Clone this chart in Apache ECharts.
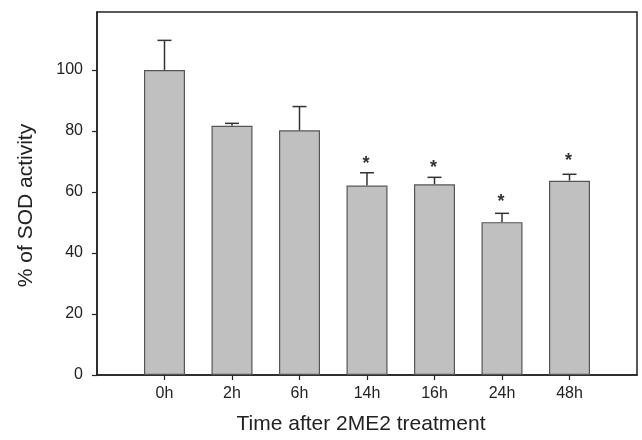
<!DOCTYPE html>
<html><head><meta charset="utf-8">
<script src="https://cdn.jsdelivr.net/npm/echarts@6/dist/echarts.min.js"></script>
<style>html,body{margin:0;padding:0;background:#fff}#c{width:642px;height:440px}</style>
</head><body><div id="c"></div>
<script>
const categories = ['0h', '2h', '6h', '14h', '16h', '24h', '48h'];
const activity = [100, 81.7, 80.2, 62.1, 62.5, 50.1, 63.7];
const sem = [9.7, 0.8, 7.8, 4.2, 2.3, 2.9, 2.1];
const starText = ['', '', '', '*', '*', '*', '*'];
const starLevel = [null, null, null, 70.6, 69.0, 58.0, 71.5];
const yTicks = [0, 20, 40, 60, 80, 100];

const FONT = '"Liberation Sans", Arial, Helvetica, sans-serif';
const axisCats = [''].concat(categories, ['']);
const barData = ['-'].concat(activity, ['-']);
const errData = categories.map((c, i) => [i + 1, activity[i], activity[i] + sem[i]]);
const starData = [];
categories.forEach((c, i) => { if (starText[i]) starData.push([i + 1, starLevel[i], starText[i]]); });

const chart = echarts.init(document.getElementById('c'), null, {renderer: 'canvas'});
chart.setOption({
  animation: false,
  backgroundColor: '#fff',
  grid: {left: 97, top: 12, right: 5, bottom: 61, show: true, borderColor: '#222', borderWidth: 1.5, containLabel: false},
  xAxis: {
    type: 'category', data: axisCats, boundaryGap: false,
    name: 'Time after 2ME2 treatment', nameLocation: 'middle', nameGap: 39,
    nameTextStyle: {fontFamily: FONT, fontSize: 21, color: '#222', padding: [0, 12, 0, 0]},
    axisLine: {lineStyle: {color: '#222', width: 1.5}},
    axisTick: {show: true, length: 5, lineStyle: {color: '#222', width: 1.2}, interval: (i, v) => v !== ''},
    axisLabel: {fontFamily: FONT, fontSize: 16, color: '#222', margin: 11, interval: (i, v) => v !== ''},
    splitLine: {show: false}
  },
  yAxis: {
    type: 'value', min: 0, max: 119, interval: 20,
    name: '% of SOD activity', nameLocation: 'middle', nameGap: 60,
    nameTextStyle: {fontFamily: FONT, fontSize: 21, color: '#222', padding: [0, 24, 0, 0]},
    axisLine: {show: true, lineStyle: {color: '#222', width: 1.5}},
    axisTick: {show: true, length: 5, lineStyle: {color: '#222', width: 1.2}, customValues: yTicks},
    axisLabel: {fontFamily: FONT, fontSize: 16, color: '#222', margin: 14, customValues: yTicks},
    splitLine: {show: false}
  },
  series: [
    {
      type: 'bar', data: barData, barWidth: 41,
      itemStyle: {color: '#c0c0c0', borderColor: '#555', borderWidth: 1.2}
    },
    {
      type: 'custom', data: errData, encode: {x: 0, y: [1, 2]},
      renderItem: function (params, api) {
        const x = api.value(0), v = api.value(1), u = api.value(2);
        const p0 = api.coord([x, v]), p1 = api.coord([x, u]);
        return {type: 'group', children: [
          {type: 'line', shape: {x1: p0[0], y1: p0[1], x2: p1[0], y2: p1[1]}, style: {stroke: '#333', lineWidth: 1.5}},
          {type: 'line', shape: {x1: p1[0] - 7, y1: p1[1], x2: p1[0] + 7, y2: p1[1]}, style: {stroke: '#333', lineWidth: 1.5}}
        ]};
      }
    },
    {
      type: 'custom', data: starData, encode: {x: 0, y: 1},
      renderItem: function (params, api) {
        const p = api.coord([api.value(0), api.value(1)]);
        return {type: 'text', x: p[0] - 1, y: p[1] + 4, style: {
          text: starData[params.dataIndex][2], fontFamily: FONT, fontSize: 18, fontWeight: 'bold', fill: '#333',
          align: 'center', verticalAlign: 'middle'
        }};
      }
    }
  ]
});
</script></body></html>
